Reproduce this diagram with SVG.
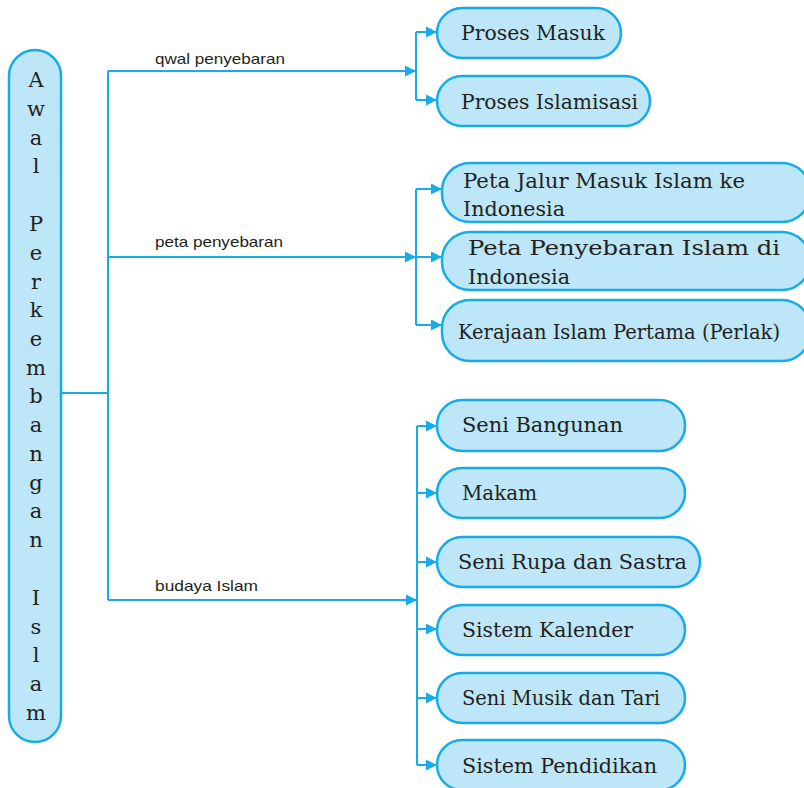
<svg xmlns="http://www.w3.org/2000/svg" width="804" height="788" viewBox="0 0 804 788">
<defs>
<marker id="ah" markerUnits="userSpaceOnUse" markerWidth="12" markerHeight="12" refX="11" refY="6" orient="auto">
<path d="M0,0.5 L11,6 L0,11.5 z" fill="#17ace8"/>
</marker>
<style>
.box{fill:#bde6f8;stroke:#17ace8;stroke-width:2.5}
.ln{fill:none;stroke:#17ace8;stroke-width:2}
.ar{fill:none;stroke:#17ace8;stroke-width:2;marker-end:url(#ah)}
.t{font-family:"DejaVu Serif","Liberation Serif",serif;font-size:21px;fill:#231f20}
.v{font-family:"DejaVu Serif","Liberation Serif",serif;font-size:21px;fill:#231f20;text-anchor:middle}
.lb{font-family:"Liberation Sans","Open Sans",sans-serif;font-size:15px;fill:#231f20}
</style>
</defs>
<rect width="804" height="788" fill="#ffffff"/>

<g id="connectors">
<path class="ln" d="M61,393 H108 M108,71 V600"/>
<path class="ar" d="M108,71 H416"/>
<path class="ar" d="M108,257 H416"/>
<path class="ar" d="M108,600 H417"/>
<path class="ln" d="M416,32 V100"/>
<path class="ar" d="M416,32 H437"/>
<path class="ar" d="M416,100 H437"/>
<path class="ln" d="M416,189 V325"/>
<path class="ar" d="M416,189 H442"/>
<path class="ar" d="M416,257 H442"/>
<path class="ar" d="M416,325 H442"/>
<path class="ln" d="M417,426 V765"/>
<path class="ar" d="M417,426 H437"/>
<path class="ar" d="M417,493 H437"/>
<path class="ar" d="M417,562 H437"/>
<path class="ar" d="M417,629 H437"/>
<path class="ar" d="M417,698 H437"/>
<path class="ar" d="M417,765 H437"/>
<text class="lb" x="155" y="64" textLength="130" lengthAdjust="spacingAndGlyphs">qwal penyebaran</text>
<text class="lb" x="155" y="247" textLength="128" lengthAdjust="spacingAndGlyphs">peta penyebaran</text>
<text class="lb" x="155" y="591" textLength="103" lengthAdjust="spacingAndGlyphs">budaya Islam</text>
</g>

<g id="root">
<rect class="box" x="9" y="50" width="52" height="692" rx="26"/>
<text class="v" x="36" y="87">A</text>
<text class="v" x="36" y="116">w</text>
<text class="v" x="36" y="145">a</text>
<text class="v" x="36" y="173">l</text>
<text class="v" x="36" y="231">P</text>
<text class="v" x="36" y="260">e</text>
<text class="v" x="36" y="289">r</text>
<text class="v" x="36" y="317">k</text>
<text class="v" x="36" y="346">e</text>
<text class="v" x="36" y="375">m</text>
<text class="v" x="36" y="403">b</text>
<text class="v" x="36" y="432">a</text>
<text class="v" x="36" y="461">n</text>
<text class="v" x="36" y="490">g</text>
<text class="v" x="36" y="518">a</text>
<text class="v" x="36" y="547">n</text>
<text class="v" x="36" y="605">I</text>
<text class="v" x="36" y="634">s</text>
<text class="v" x="36" y="662">l</text>
<text class="v" x="36" y="691">a</text>
<text class="v" x="36" y="720">m</text>
</g>

<g id="n-proses-masuk">
<rect class="box" x="437" y="8" width="184" height="50" rx="25"/>
<text class="t" x="461" y="40" textLength="144" lengthAdjust="spacingAndGlyphs">Proses Masuk</text>
</g>
<g id="n-proses-islamisasi">
<rect class="box" x="437" y="76" width="213" height="50" rx="25"/>
<text class="t" x="461" y="109" textLength="177" lengthAdjust="spacingAndGlyphs">Proses Islamisasi</text>
</g>

<g id="n-peta-jalur">
<rect class="box" x="442" y="163" width="368" height="59" rx="28"/>
<text class="t" x="463" y="188" textLength="282" lengthAdjust="spacingAndGlyphs">Peta Jalur Masuk Islam ke</text>
<text class="t" x="463" y="216" textLength="102" lengthAdjust="spacingAndGlyphs">Indonesia</text>
</g>
<g id="n-peta-penyebaran">
<rect class="box" x="442" y="232" width="368" height="58" rx="28"/>
<text class="t" x="468" y="255" textLength="312" lengthAdjust="spacingAndGlyphs">Peta Penyebaran Islam di</text>
<text class="t" x="468" y="284" textLength="102" lengthAdjust="spacingAndGlyphs">Indonesia</text>
</g>
<g id="n-kerajaan">
<rect class="box" x="442" y="300" width="368" height="61" rx="28"/>
<text class="t" x="458" y="339" textLength="322" lengthAdjust="spacingAndGlyphs">Kerajaan Islam Pertama (Perlak)</text>
</g>

<g id="n-seni-bangunan">
<rect class="box" x="437" y="400" width="248" height="51" rx="25"/>
<text class="t" x="462" y="432" textLength="161" lengthAdjust="spacingAndGlyphs">Seni Bangunan</text>
</g>
<g id="n-makam">
<rect class="box" x="437" y="468" width="248" height="50" rx="25"/>
<text class="t" x="462" y="500" textLength="75" lengthAdjust="spacingAndGlyphs">Makam</text>
</g>
<g id="n-seni-rupa">
<rect class="box" x="437" y="537" width="263" height="50" rx="25"/>
<text class="t" x="458" y="569" textLength="229" lengthAdjust="spacingAndGlyphs">Seni Rupa dan Sastra</text>
</g>
<g id="n-sistem-kalender">
<rect class="box" x="437" y="605" width="248" height="50" rx="25"/>
<text class="t" x="462" y="637" textLength="171" lengthAdjust="spacingAndGlyphs">Sistem Kalender</text>
</g>
<g id="n-seni-musik">
<rect class="box" x="437" y="673" width="248" height="50" rx="25"/>
<text class="t" x="462" y="705" textLength="198" lengthAdjust="spacingAndGlyphs">Seni Musik dan Tari</text>
</g>
<g id="n-sistem-pendidikan">
<rect class="box" x="437" y="740" width="248" height="50" rx="25"/>
<text class="t" x="462" y="773" textLength="195" lengthAdjust="spacingAndGlyphs">Sistem Pendidikan</text>
</g>
</svg>
